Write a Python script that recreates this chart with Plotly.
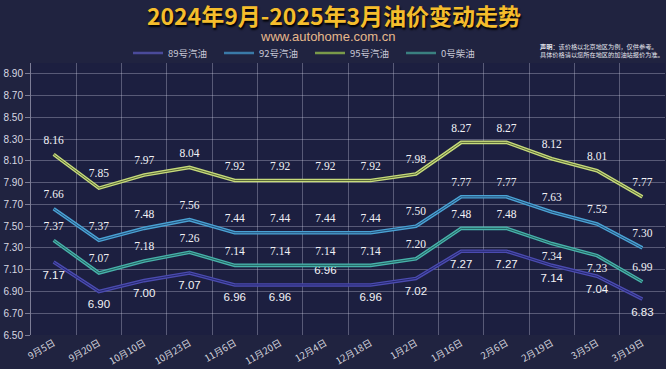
import plotly.graph_objects as go

dates = ["9月5日", "9月20日", "10月10日", "10月23日", "11月6日", "11月20日", "12月4日",
         "12月18日", "1月2日", "1月16日", "2月6日", "2月19日", "3月5日", "3月19日"]
price_89 = [7.17, 6.90, 7.00, 7.07, 6.96, 6.96, 6.96, 6.96, 7.02, 7.27, 7.27, 7.14, 7.04, 6.83]
price_92 = [7.66, 7.37, 7.48, 7.56, 7.44, 7.44, 7.44, 7.44, 7.50, 7.77, 7.77, 7.63, 7.52, 7.30]
price_95 = [8.16, 7.85, 7.97, 8.04, 7.92, 7.92, 7.92, 7.92, 7.98, 8.27, 8.27, 8.12, 8.01, 7.77]
price_0 = [7.37, 7.07, 7.18, 7.26, 7.14, 7.14, 7.14, 7.14, 7.20, 7.48, 7.48, 7.34, 7.23, 6.99]
y_ticks = [6.50, 6.70, 6.90, 7.10, 7.30, 7.50, 7.70, 7.90, 8.10, 8.30, 8.50, 8.70, 8.90]
series_names = ["89号汽油", "92号汽油", "95号汽油", "0号柴油"]

title_text = "2024年9月-2025年3月油价变动走势"
subtitle_text = "www.autohome.com.cn"
note_text = "<b>声明</b>：该价格以北京地区为例，仅供参考。<br>具体价格请以您所在地区的加油站报价为准。"

# styles
pos_89 = ["bottom center"] * 14
pos_89[6] = "top center"
pos_0 = ["top center"] * 14
pos_0[11] = "bottom center"
pos_0[12] = "bottom center"
styles = [
    (price_89, "#4b4bb0", "#25286e", "#4a4a9a", pos_89, "Liberation Sans"),
    (price_92, "#4aa2d4", "#244f78", "#3a7aa8", ["top center"] * 14, "Liberation Serif"),
    (price_95, "#c6da7a", "#5a6a38", "#7a9a4a", ["top center"] * 14, "Liberation Serif"),
    (price_0, "#47b2aa", "#24605f", "#3a8080", pos_0, "Liberation Serif"),
]

fig = go.Figure()
for name, (vals, outer, inner, legc, pos, fam) in zip(series_names, styles):
    fig.add_trace(go.Scatter(x=[None], y=[None], mode="lines", name=name,
                             line=dict(color=legc, width=2.5), showlegend=True))
    fig.add_trace(go.Scatter(x=dates, y=vals, mode="lines", showlegend=False,
                             line=dict(color=outer, width=3.6), hoverinfo="skip"))
    fig.add_trace(go.Scatter(x=dates, y=vals, mode="lines+markers+text", showlegend=False,
                             line=dict(color=inner, width=1),
                             marker=dict(size=11, opacity=0),
                             text=[f"{v:.2f}" for v in vals], textposition=pos,
                             textfont=dict(color="#f2f2f6", size=11.5, family=fam)))

fig.update_layout(
    width=666, height=369,
    margin=dict(l=31, r=1, t=63, b=34, autoexpand=False),
    paper_bgcolor="#202340", plot_bgcolor="#1c1f40",
    title=dict(text=title_text, x=334 / 666, xanchor="center", xref="container",
               y=1 - 17 / 369, yanchor="middle", yref="container",
               font=dict(family="Noto Sans CJK SC", size=23, color="#f5bd2c",
                         weight="bold", shadow="1px 2px 2px #000000")),
    legend=dict(orientation="h", xref="container", x=128 / 666, xanchor="left",
                yref="container", y=1 - 53 / 369, yanchor="middle",
                font=dict(family="Noto Sans CJK SC", size=9.5, color="#c8c8d6"),
                itemwidth=30, entrywidth=46, entrywidthmode="pixels",
                tracegroupgap=0, bgcolor="rgba(0,0,0,0)"),
    showlegend=True,
    xaxis=dict(type="category", categoryorder="array", categoryarray=dates,
               range=[-0.5, 13.5], tickson="boundaries", showgrid=True,
               gridcolor="rgba(215,215,235,0.32)", gridwidth=1, tickangle=-30,
               ticks="", showline=False, zeroline=False,
               tickfont=dict(family="Noto Sans CJK SC", size=9.5, color="#d4d4de")),
    yaxis=dict(range=[6.5, 9.0], tickvals=y_ticks, ticktext=[f"{v:.2f}" for v in y_ticks],
               showgrid=True, gridcolor="rgba(215,215,235,0.32)", gridwidth=1,
               showline=True, linecolor="rgba(215,215,235,0.5)", ticks="outside",
               ticklen=5, tickcolor="rgba(215,215,235,0.5)", zeroline=False,
               tickfont=dict(family="Liberation Sans", size=10, color="#d8d8e2")),
    annotations=[
        dict(text=subtitle_text, xref="paper", yref="paper", x=(327 - 31) / 634,
             y=1 + (63 - 37) / 272, xanchor="center", yanchor="middle", showarrow=False,
             font=dict(family="Liberation Sans", size=13, color="#e6b98c")),
        dict(text=note_text, xref="paper", yref="paper", x=(538 - 31) / 634,
             y=1 + (63 - 51) / 272, xanchor="left", yanchor="middle", align="left",
             showarrow=False,
             font=dict(family="Noto Sans CJK SC", size=6.2, color="#e6e6ee")),
    ],
)

fig.write_html("out.html", config={"displayModeBar": False},
               post_script="document.body.style.margin='0';document.body.style.background='#202340';")
